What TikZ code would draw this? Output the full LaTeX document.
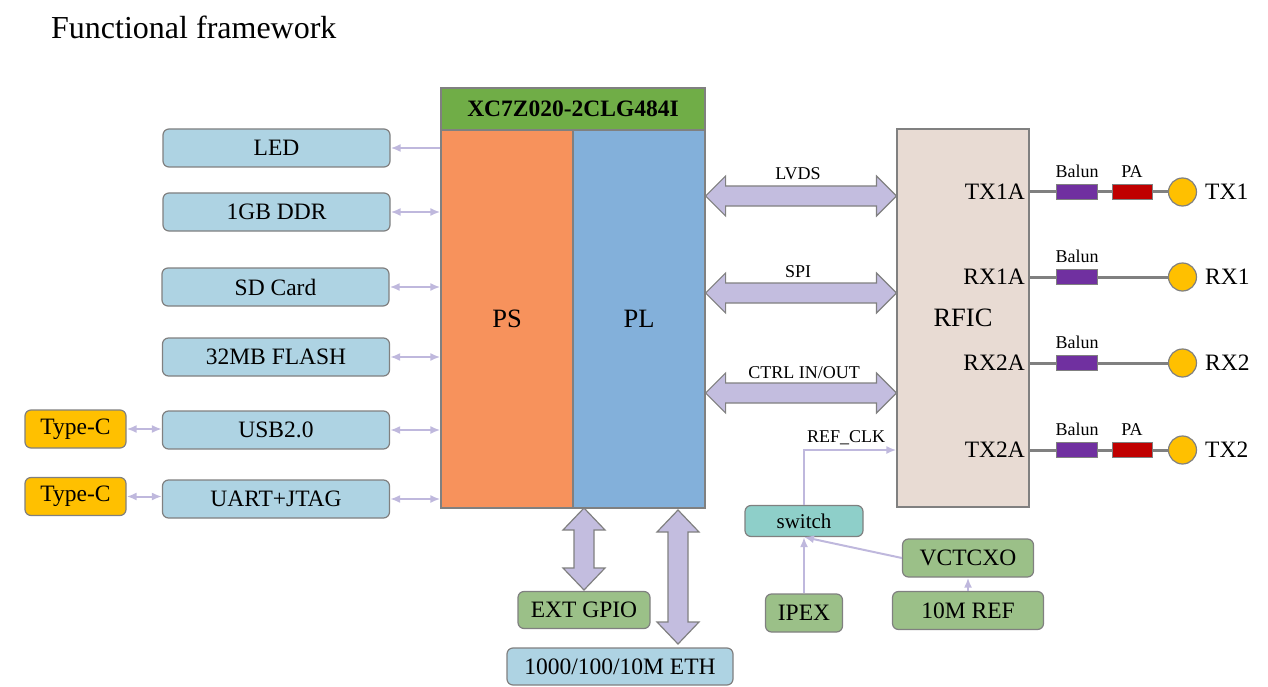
\documentclass[tikz,border=0pt]{standalone}
\usepackage{fontspec}
\setmainfont{Liberation Serif}
\usetikzlibrary{arrows.meta,calc,positioning}
\definecolor{bgray}{HTML}{808080}
\definecolor{lblue}{HTML}{AED3E3}
\definecolor{psor}{HTML}{F7925C}
\definecolor{plbl}{HTML}{83B0DA}
\definecolor{hdgr}{HTML}{70AD47}
\definecolor{rfbg}{HTML}{E8DBD3}
\definecolor{busc}{HTML}{C3BDDF}
\definecolor{arrc}{HTML}{BFB8DD}
\definecolor{ggr}{HTML}{9BC088}
\definecolor{teal}{HTML}{8ECFC9}
\definecolor{ylw}{HTML}{FFC000}
\definecolor{purp}{HTML}{7030A0}
\definecolor{pared}{HTML}{C00000}
\newcommand\hbus[2]{\draw[bus] (#1) -- ($(#1)+(20,-20)$) -- ($(#1)+(20,-10)$) -- ($(#2)+(-20,-10)$) -- ($(#2)+(-20,-20)$) -- (#2) -- ($(#2)+(-20,20)$) -- ($(#2)+(-20,10)$) -- ($(#1)+(20,10)$) -- ($(#1)+(20,20)$) -- cycle;}
\newcommand\vbus[2]{\draw[bus] (#1) -- ($(#1)+(21,22)$) -- ($(#1)+(10,22)$) -- ($(#2)+(10,-22)$) -- ($(#2)+(21,-22)$) -- (#2) -- ($(#2)+(-21,-22)$) -- ($(#2)+(-10,-22)$) -- ($(#1)+(-10,22)$) -- ($(#1)+(-21,22)$) -- cycle;}
\begin{document}
\begin{tikzpicture}[x=1pt,y=-1pt,
  mainf/.style={font=\fontsize{23.5}{28}\selectfont},
  bigf/.style={font=\fontsize{26.5}{31}\selectfont},
  smallf/.style={font=\fontsize{18}{21}\selectfont},
  rbox/.style={draw=bgray, line width=1.2pt, rounded corners=6pt, inner sep=0pt, mainf},
  lbbox/.style={rbox, fill=lblue},
  gbox/.style={rbox, fill=ggr},
  sqbox/.style={draw=bgray, line width=1.2pt, inner sep=0pt, bigf},
  bus/.style={draw=bgray, line width=1.2pt, fill=busc},
  arr/.style={draw=arrc, line width=2pt, -{Latex[length=10pt,width=8pt]}},
  darr/.style={draw=arrc, line width=2pt, {Latex[length=10pt,width=8pt]}-{Latex[length=10pt,width=8pt]}},
  rfl/.style={draw=bgray, line width=3pt},
  balun/.style={draw=bgray, line width=1pt, fill=purp, minimum width=41pt, minimum height=15pt, inner sep=0pt},
  pa/.style={draw=bgray, line width=1pt, fill=pared, minimum width=40pt, minimum height=15pt, inner sep=0pt},
  ant/.style={circle, draw=bgray, line width=1.2pt, fill=ylw, minimum size=28pt, inner sep=0pt},
  plain/.style={inner sep=0pt}
]
\useasboundingbox (0,0) rectangle (1268,687);

\node[plain, anchor=west, font=\fontsize{32}{37}\selectfont] (title) at (51,27) {Functional framework};

% chip
\node[sqbox, fill=hdgr, minimum width=264pt, minimum height=42pt, font=\fontsize{23.5}{28}\selectfont\bfseries] (hdr) at (573,109) {XC7Z020-2CLG484I};
\node[sqbox, fill=psor, minimum width=132pt, minimum height=378pt] (PS) at (507,319) {PS};
\node[sqbox, fill=plbl, minimum width=132pt, minimum height=378pt] (PL) at (639,319) {PL};

% left boxes
\node[lbbox, minimum width=227pt, minimum height=38pt] (LED) at (276.5,148) {LED};
\node[lbbox, minimum width=227pt, minimum height=38pt] (DDR) at (276.5,212) {1GB DDR};
\node[lbbox, minimum width=227pt, minimum height=38pt] (SD) at (275.5,287) {SD Card};
\node[lbbox, minimum width=227pt, minimum height=38pt] (FL) at (276,357) {32MB FLASH};
\node[lbbox, minimum width=227pt, minimum height=38pt] (USB) at (276,430) {USB2.0};
\node[lbbox, minimum width=227pt, minimum height=38pt] (UART) at (276,499) {UART+JTAG};
\node[rbox, fill=ylw, minimum width=101pt, minimum height=38pt] (TC1) at (75.5,429) {Type-C};
\node[rbox, fill=ylw, minimum width=101pt, minimum height=38pt] (TC2) at (75.5,496.5) {Type-C};

\draw[arr] (PS.west |- LED) -- (LED.east);
\draw[darr] (PS.west |- DDR) -- (DDR.east);
\draw[darr] (PS.west |- SD) -- (SD.east);
\draw[darr] (PS.west |- FL) -- (FL.east);
\draw[darr] (PS.west |- USB) -- (USB.east);
\draw[darr] (PS.west |- UART) -- (UART.east);
\draw[darr] (TC1.east) -- (TC1.east -| USB.west);
\draw[darr] (TC2.east) -- (TC2.east -| UART.west);

% RFIC
\node[sqbox, fill=rfbg, minimum width=132pt, minimum height=378pt] (RFIC) at (963,318) {RFIC};
\node[plain, mainf, anchor=east] (p1) at (1025,192) {TX1A};
\node[plain, mainf, anchor=east] (p2) at (1025,277) {RX1A};
\node[plain, mainf, anchor=east] (p3) at (1025,363) {RX2A};
\node[plain, mainf, anchor=east] (p4) at (1025,450) {TX2A};

% buses
\coordinate (yl) at (0,196);
\coordinate (ys) at (0,293);
\coordinate (yc) at (0,393);
\coordinate (lvA) at (PL.east |- yl); \coordinate (lvB) at (RFIC.west |- yl);
\coordinate (spA) at (PL.east |- ys); \coordinate (spB) at (RFIC.west |- ys);
\coordinate (ctA) at (PL.east |- yc); \coordinate (ctB) at (RFIC.west |- yc);
\hbus{lvA}{lvB}
\hbus{spA}{spB}
\hbus{ctA}{ctB}
\node[plain, smallf] (lvl) at (798,174) {LVDS};
\node[plain, smallf] (spl) at (798,272) {SPI};
\node[plain, smallf] (ctl) at (804,373) {CTRL IN/OUT};

% bottom boxes
\node[gbox, minimum width=132pt, minimum height=37pt] (GPIO) at (584,610) {EXT GPIO};
\node[lbbox, minimum width=226pt, minimum height=37pt] (ETH) at (620,666.5) {1000/100/10M ETH};
\coordinate (gA) at (584,508); \coordinate (gB) at (584,590);
\coordinate (eA) at (678,510); \coordinate (eB) at (678,644);
\vbus{gA}{gB}
\vbus{eA}{eB}

% clock
\node[rbox, fill=teal, minimum width=118pt, minimum height=31pt, font=\fontsize{21}{25}\selectfont] (SW) at (804,521) {switch};
\node[gbox, minimum width=77pt, minimum height=38pt] (IPEX) at (804,613) {IPEX};
\node[gbox, minimum width=131pt, minimum height=38pt] (VC) at (968,558) {VCTCXO};
\node[gbox, minimum width=151pt, minimum height=38pt] (REF) at (968,610.5) {10M REF};
\coordinate (rc) at (0,450);
\draw[arr] (SW.north) -- (SW.north |- rc) -- (RFIC.west |- rc);
\node[plain, smallf] (rcl) at (846,438) {REF\_CLK};
\draw[arr] (IPEX.north) -- (SW.south);
\draw[arr] (VC.west) -- (SW.south);
\draw[arr] (REF.north) -- (VC.south);

% RF chains
\node[ant] (a1) at (1182.5,192) {};
\node[ant] (a2) at (1182.5,277) {};
\node[ant] (a3) at (1182.5,363) {};
\node[ant] (a4) at (1182.5,450) {};
\node[balun] (b1) at (1077,192) {};
\node[balun] (b2) at (1077,277) {};
\node[balun] (b3) at (1077,363) {};
\node[balun] (b4) at (1077,450) {};
\node[pa] (pa1) at (1132,192) {};
\node[pa] (pa4) at (1132,450) {};
\draw[rfl] (RFIC.east |- b1) -- (b1.west);
\draw[rfl] (b1.east) -- (pa1.west);
\draw[rfl] (pa1.east) -- (a1.west);
\draw[rfl] (RFIC.east |- b2) -- (b2.west);
\draw[rfl] (b2.east) -- (a2.west);
\draw[rfl] (RFIC.east |- b3) -- (b3.west);
\draw[rfl] (b3.east) -- (a3.west);
\draw[rfl] (RFIC.east |- b4) -- (b4.west);
\draw[rfl] (b4.east) -- (pa4.west);
\draw[rfl] (pa4.east) -- (a4.west);
\foreach \b in {b1,b2,b3,b4} {\node[plain, smallf, above=6pt of \b] {Balun};}
\foreach \p in {pa1,pa4} {\node[plain, smallf, above=6pt of \p] {PA};}
\node[plain, mainf, anchor=west] (t1) at (1205,192) {TX1};
\node[plain, mainf, anchor=west] (t2) at (1205,277) {RX1};
\node[plain, mainf, anchor=west] (t3) at (1205,363) {RX2};
\node[plain, mainf, anchor=west] (t4) at (1205,450) {TX2};
\end{tikzpicture}
\end{document}
